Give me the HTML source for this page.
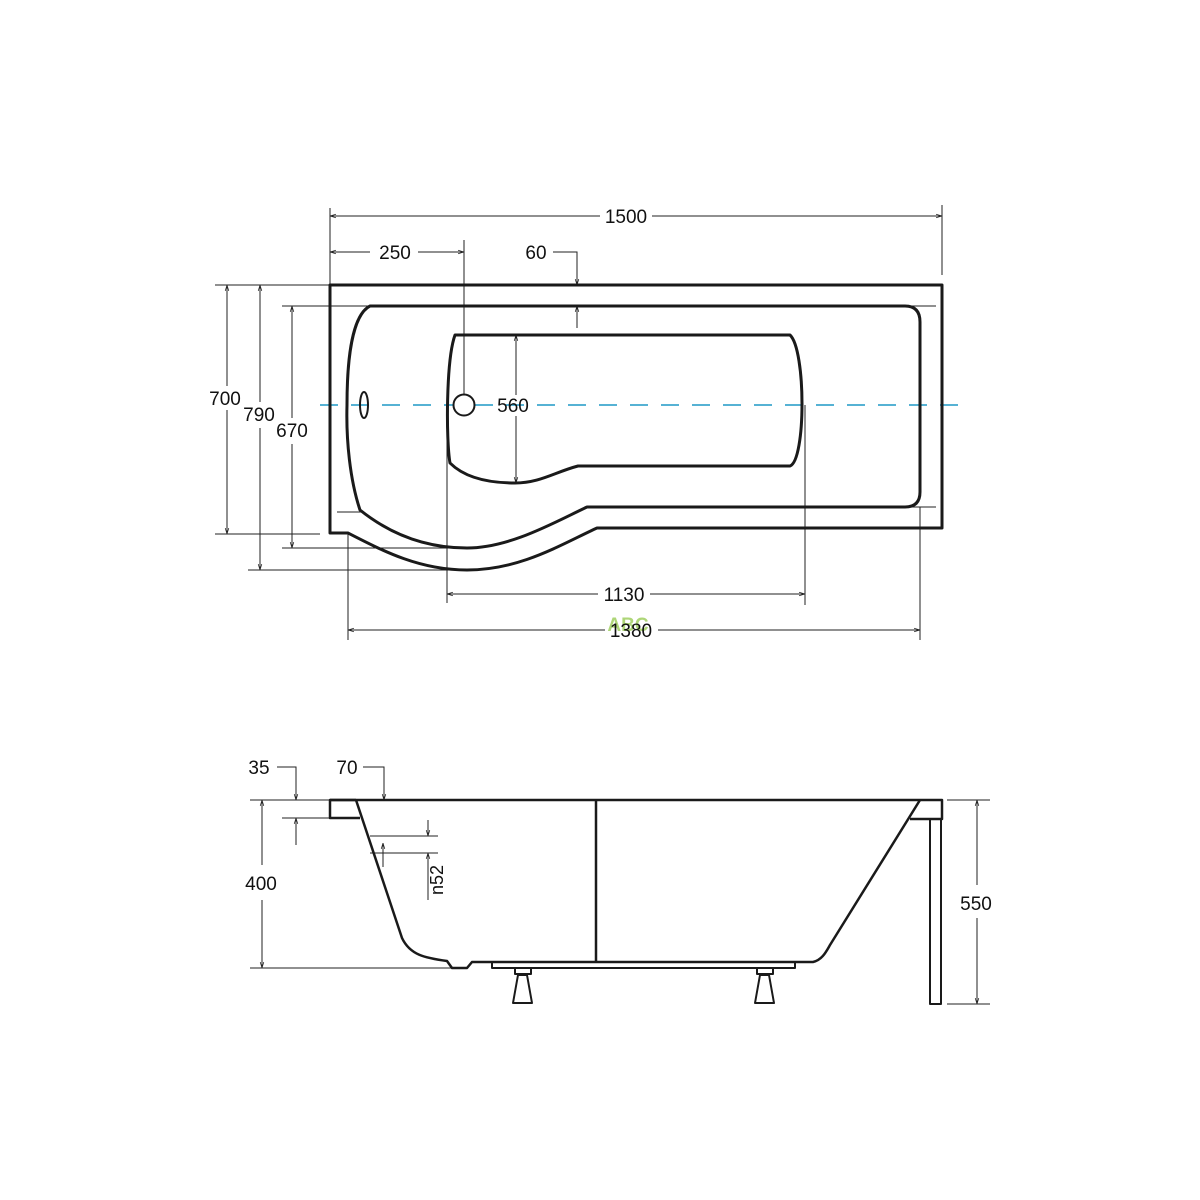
<!DOCTYPE html>
<html><head><meta charset="utf-8"><style>
html,body{margin:0;padding:0;background:#fff;width:1200px;height:1200px;overflow:hidden}
svg{display:block}
text{font-family:"Liberation Sans",sans-serif;font-size:19px;fill:#111}
</style></head><body>
<svg width="1200" height="1200" viewBox="0 0 1200 1200" xmlns="http://www.w3.org/2000/svg">
<defs>
<marker id="a" viewBox="0 0 10 10" refX="10" refY="5" markerWidth="6" markerHeight="6" orient="auto-start-reverse"><path d="M0,2 L10,5 L0,8" fill="none" stroke="#222" stroke-width="1.2"/></marker>
</defs>
<g fill="none" stroke="#222" stroke-width="1">
<line x1="330" y1="208" x2="330" y2="285"/><line x1="942" y1="205" x2="942" y2="275"/>
<line x1="330" y1="216" x2="600" y2="216" marker-start="url(#a)"/><line x1="652" y1="216" x2="942" y2="216" marker-end="url(#a)"/>
<line x1="330" y1="252" x2="370" y2="252" marker-start="url(#a)"/><line x1="418" y1="252" x2="464" y2="252" marker-end="url(#a)"/>
<line x1="464" y1="240" x2="464" y2="394"/>
<polyline points="553,252 577,252 577,285" marker-end="url(#a)"/>
<line x1="577" y1="328" x2="577" y2="306" marker-end="url(#a)"/>
<line x1="215" y1="285" x2="330" y2="285"/><line x1="215" y1="534" x2="320" y2="534"/>
<line x1="227" y1="285" x2="227" y2="386" marker-start="url(#a)"/><line x1="227" y1="410" x2="227" y2="534" marker-end="url(#a)"/>
<line x1="248" y1="570" x2="455" y2="570"/>
<line x1="260" y1="285" x2="260" y2="402" marker-start="url(#a)"/><line x1="260" y1="428" x2="260" y2="570" marker-end="url(#a)"/>
<line x1="282" y1="306" x2="372" y2="306"/><line x1="282" y1="548" x2="462" y2="548"/>
<line x1="292" y1="306" x2="292" y2="418" marker-start="url(#a)"/><line x1="292" y1="444" x2="292" y2="548" marker-end="url(#a)"/>
<line x1="516" y1="335" x2="516" y2="395" marker-start="url(#a)"/><line x1="516" y1="416" x2="516" y2="483" marker-end="url(#a)"/>
<line x1="447" y1="405" x2="447" y2="603"/><line x1="805" y1="405" x2="805" y2="605"/>
<line x1="447" y1="594" x2="598" y2="594" marker-start="url(#a)"/><line x1="650" y1="594" x2="805" y2="594" marker-end="url(#a)"/>
<line x1="348" y1="533" x2="348" y2="640"/><line x1="920" y1="507" x2="920" y2="640"/>
<line x1="348" y1="630" x2="605" y2="630" marker-start="url(#a)"/><line x1="658" y1="630" x2="920" y2="630" marker-end="url(#a)"/>
<line x1="908" y1="306" x2="936" y2="306"/><line x1="908" y1="507" x2="936" y2="507"/>
<line x1="337" y1="512" x2="362" y2="512"/>
</g>
<line x1="320" y1="405" x2="968" y2="405" stroke="#1e98c6" stroke-width="1.5" stroke-dasharray="18,13"/>
<g fill="none" stroke="#1a1a1a" stroke-width="3" stroke-linejoin="round">
<path d="M330,285 L942,285 L942,528 L597,528 C560,545 520,570 467,570 C420,570 385,552 348,533 L330,533 Z"/>
<path d="M370,306 L905,306 Q920,306 920,322 L920,492 Q920,507 905,507 L587,507 C555,522 510,548 467,548 C420,548 385,530 360,510 C350,480 346,440 347,405 C347,360 352,315 370,306 Z"/>
<path d="M455,335 L790,335 C806,350 806,460 790,466 L578,466 C555,472 540,483 515,483 C490,483 465,478 450,463 C446,440 446,360 455,335 Z"/>
</g>
<circle cx="464" cy="405" r="10.5" fill="#fff" stroke="#1a1a1a" stroke-width="2"/>
<ellipse cx="364" cy="405" rx="4" ry="13" fill="none" stroke="#1a1a1a" stroke-width="2"/>
<text x="626" y="223" text-anchor="middle">1500</text>
<text x="395" y="259" text-anchor="middle">250</text>
<text x="536" y="259" text-anchor="middle">60</text>
<text x="225" y="405" text-anchor="middle">700</text>
<text x="259" y="421" text-anchor="middle">790</text>
<text x="292" y="437" text-anchor="middle">670</text>
<text x="513" y="412" text-anchor="middle">560</text>
<text x="624" y="601" text-anchor="middle">1130</text>
<text x="628" y="631" text-anchor="middle" style="fill:#8cc63f;opacity:0.7;font-weight:bold">ABC</text>
<text x="631" y="637" text-anchor="middle">1380</text>
<g fill="none" stroke="#222" stroke-width="1">
<line x1="250" y1="800" x2="330" y2="800"/><line x1="282" y1="818" x2="330" y2="818"/>
<polyline points="277,767 296,767 296,800" marker-end="url(#a)"/>
<line x1="296" y1="845" x2="296" y2="818" marker-end="url(#a)"/>
<polyline points="363,767 384,767 384,800" marker-end="url(#a)"/>
<line x1="250" y1="968" x2="452" y2="968"/>
<line x1="262" y1="800" x2="262" y2="865" marker-start="url(#a)"/><line x1="262" y1="900" x2="262" y2="968" marker-end="url(#a)"/>
<line x1="370" y1="836" x2="438" y2="836"/><line x1="370" y1="853" x2="438" y2="853"/>
<line x1="428" y1="820" x2="428" y2="836" marker-end="url(#a)"/>
<line x1="428" y1="900" x2="428" y2="853" marker-end="url(#a)"/>
<line x1="383" y1="867" x2="383" y2="843" marker-end="url(#a)"/>
<line x1="947" y1="800" x2="990" y2="800"/><line x1="947" y1="1004" x2="990" y2="1004"/>
<line x1="977" y1="800" x2="977" y2="885" marker-start="url(#a)"/><line x1="977" y1="918" x2="977" y2="1004" marker-end="url(#a)"/>
</g>
<g fill="none" stroke="#1a1a1a" stroke-width="2.5" stroke-linejoin="round">
<path d="M330,800 L942,800 L942,819 L910,819"/>
<path d="M356,800 L330,800 L330,818 L360,818"/>
<path d="M356,800 L402,938 C410,955 425,958 447,961 L452,968 L467,968 L472,962 L813,962 C822,960 826,952 830,945 L920,800"/>
<line x1="596" y1="800" x2="596" y2="962"/>
<rect x="930" y="819" width="11" height="185" stroke-width="2"/>
<rect x="492" y="962" width="303" height="6" stroke-width="2"/>
<rect x="515" y="968" width="16" height="6" stroke-width="2"/>
<path d="M518,975 L527,975 L532,1003 L513,1003 Z" stroke-width="2"/>
<rect x="757" y="968" width="16" height="6" stroke-width="2"/>
<path d="M760,975 L769,975 L774,1003 L755,1003 Z" stroke-width="2"/>
</g>
<text x="259" y="774" text-anchor="middle">35</text>
<text x="347" y="774" text-anchor="middle">70</text>
<text x="261" y="890" text-anchor="middle">400</text>
<text x="976" y="910" text-anchor="middle">550</text>
<text transform="translate(443,880) rotate(-90)" text-anchor="middle" style="font-size:18px">n52</text>
</svg>
</body></html>
